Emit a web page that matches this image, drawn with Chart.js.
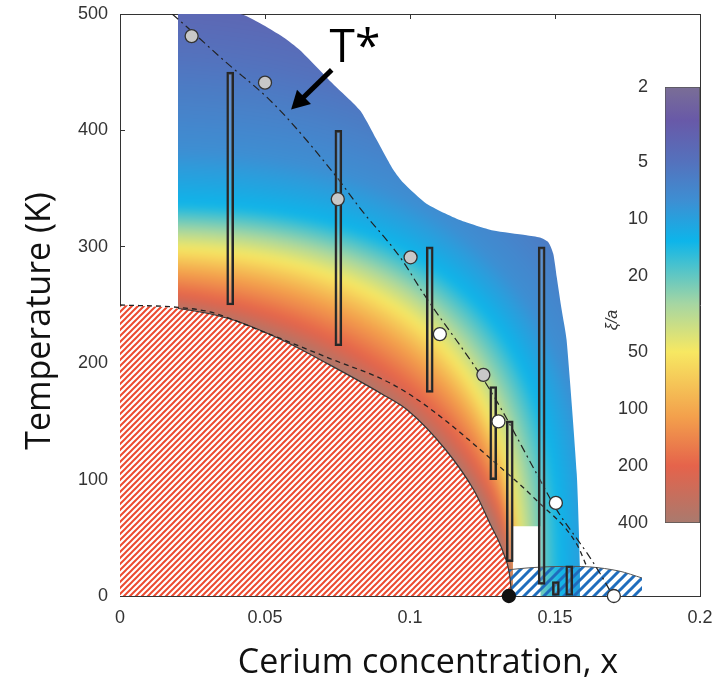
<!DOCTYPE html>
<html>
<head>
<meta charset="utf-8">
<script src="https://cdn.jsdelivr.net/npm/chart.js@4.4.1/dist/chart.umd.min.js"></script>
<style>
  html, body { margin: 0; padding: 0; background: #fff; }
  #wrap { position: relative; width: 721px; height: 678px; }
  #main { position: absolute; left: 0; top: 0; }
  #cbar { position: absolute; left: 580px; top: 60px; }
</style>
</head>
<body>
<div id="wrap">
  <canvas id="main" width="721" height="678"></canvas>
  <canvas id="cbar" width="141" height="500"></canvas>
</div>
<script>
// axes
var xMin = 0, xMax = 0.2, xStep = 0.05;
var tMin = 0, tMax = 500, tStep = 100;

// red hatched dome, read along its edge
var domeX = [0, 0.02, 0.038, 0.055, 0.072, 0.09, 0.099, 0.1125, 0.122, 0.1276, 0.1322, 0.1345, 0.135];
var domeT = [250, 247, 238, 221, 199, 174, 160, 125, 91, 62, 37, 15, 0];

// top edge of the coloured xi/a map
var mapTopX = [0.02, 0.0414, 0.0483, 0.0563, 0.062, 0.0734, 0.0828, 0.0885, 0.0943, 0.0977, 0.1057, 0.1172, 0.1287, 0.1402, 0.1448, 0.1477, 0.1494, 0.1506, 0.1523, 0.154, 0.1575, 0.1586, 0.1586];
var mapTopT = [500, 500, 492, 480, 469, 440, 417, 392, 366, 355, 337, 323, 314, 310, 308, 304, 294, 274, 246, 220, 105, 25, 0];
// white notch cut out of the map, low right
var notchX = [0.1355, 0.1355, 0.145, 0.145, 0.1586];
var notchT = [0, 60, 60, 0, 0];

// blue hatched dome
var scX = [0.1303, 0.14, 0.15, 0.162, 0.172, 0.18];
var scT = [21.5, 24, 25.3, 25, 21.5, 15.5];

// short-dashed line
var dashX = [0, 0.02, 0.031, 0.0494, 0.0724, 0.0931, 0.1058, 0.131, 0.1437, 0.1574, 0.161];
var dashT = [250, 248, 244, 227, 204, 183, 163, 111, 82, 45, 25];

// T* dash-dot line
var tsX = [0.018, 0.023, 0.0368, 0.05, 0.0575, 0.0747, 0.0828, 0.0966, 0.1046, 0.1276, 0.1437, 0.1506, 0.161, 0.1655, 0.17];
var tsT = [500, 489, 458, 430, 411, 360, 333, 291, 260, 177, 105, 74, 37, 19.5, 0];

// vertical range bars
var barX    = [0.038, 0.0753, 0.1068, 0.1287, 0.1344, 0.1454, 0.1503, 0.1549];
var barLow  = [250, 215, 175, 100, 29.5, 10, 0, 0];
var barHigh = [450, 400, 300, 180, 150.5, 300, 12.3, 26];

// markers
var greyX  = [0.0247, 0.05, 0.0751, 0.1002, 0.1253];
var greyT  = [481, 441, 341, 291, 190];
var whiteX = [0.1103, 0.1305, 0.1503, 0.1703];
var whiteT = [225, 150, 80, 0];
var blackX = [0.1341];
var blackT = [0];

// T* label and arrow
var tLabel = 'T*';
var tLabelAt = [0.081, 470];
var arrowFrom = [0.073, 452];
var arrowTo = [0.059, 418];

// colour bar (xi/a, log)
var cbTitle = 'ξ/a';
var cbTicks = [2, 5, 10, 20, 50, 100, 200, 400];
var cmapXi    = [400, 200, 110, 50, 28, 13, 8, 5, 3, 2];
var cmapColor = ['#a97a6e', '#e5634b', '#f3a04c', '#f7e862', '#a6d6a2', '#0db5ea', '#3d8fd3', '#5472bd', '#6859a8', '#7a6e96'];

// contour shapes of the map, one per colour stop (semi-axes in x and K, superellipse power)
var fieldA = [0.135, 0.136, 0.1365, 0.1375, 0.1425, 0.152, 0.165, 0.2, 0.23, 0.26];
var fieldB = [248, 262, 280, 300, 316, 338, 385, 470, 560, 650];
var fieldP = [1.77, 2.0, 2.3, 2.6, 2.7, 2.8, 2.6, 2.2, 2.0, 2.0];

function pts(xs, ys) { return xs.map(function(x, i) { return { x: x, y: ys[i] }; }); }
function lerp(a, b, t) { return a + (b - a) * t; }
function rgb(h) { return [parseInt(h.substr(1, 2), 16), parseInt(h.substr(3, 2), 16), parseInt(h.substr(5, 2), 16)]; }
function mix(c1, c2, t) {
  var a = rgb(c1), b = rgb(c2);
  return 'rgb(' + Math.round(lerp(a[0], b[0], t)) + ',' + Math.round(lerp(a[1], b[1], t)) + ',' + Math.round(lerp(a[2], b[2], t)) + ')';
}
function noPad(s) { s.paddingLeft = 0; s.paddingRight = 0; s.paddingTop = 0; s.paddingBottom = 0; }

var _patterns = {};
function hatch(key, color, bg, size, width) {
  if (_patterns[key]) return _patterns[key];
  var c = document.createElement('canvas');
  c.width = size; c.height = size;
  var g = c.getContext('2d');
  if (bg) { g.fillStyle = bg; g.fillRect(0, 0, size, size); }
  g.strokeStyle = color; g.lineWidth = width;
  g.beginPath();
  g.moveTo(-size, size * 2); g.lineTo(size * 2, -size);
  g.moveTo(-size, size); g.lineTo(size, -size);
  g.moveTo(0, size * 2); g.lineTo(size * 2, 0);
  g.stroke();
  _patterns[key] = g.createPattern(c, 'repeat');
  return _patterns[key];
}

function superEllipse(g, ox, oy, ax, by, p) {
  g.beginPath();
  g.moveTo(ox - 20, oy + 20);
  g.lineTo(ox + ax, oy + 20);
  for (var k = 0; k <= 120; k++) {
    var th = k / 120 * Math.PI / 2;
    g.lineTo(ox + ax * Math.pow(Math.cos(th), 2 / p), oy - by * Math.pow(Math.sin(th), 2 / p));
  }
  g.lineTo(ox - 20, oy - by);
  g.closePath();
  g.fill();
}

function fieldFill(c) {
  var chart = c.chart;
  if (!chart.chartArea) return 'rgba(0,0,0,0)';
  if (_patterns.field) return _patterns.field;
  var xs = chart.scales.x, ys = chart.scales.y;
  var w = chart.width, h = chart.height;
  var a = document.createElement('canvas'); a.width = w; a.height = h;
  var g = a.getContext('2d');
  var ox = xs.getPixelForValue(0), oy = ys.getPixelForValue(0);
  var n = fieldA.length, sub = 12;
  g.fillStyle = cmapColor[n - 1];
  g.fillRect(0, 0, w, h);
  for (var i = n - 1; i >= 1; i--) {
    for (var s = 0; s < sub; s++) {
      var t = 1 - s / sub;
      g.fillStyle = mix(cmapColor[i - 1], cmapColor[i], t);
      superEllipse(g, ox, oy,
        xs.getPixelForValue(lerp(fieldA[i - 1], fieldA[i], t)) - ox,
        oy - ys.getPixelForValue(lerp(fieldB[i - 1], fieldB[i], t)),
        lerp(fieldP[i - 1], fieldP[i], t));
    }
  }
  g.fillStyle = cmapColor[0];
  superEllipse(g, ox, oy, xs.getPixelForValue(fieldA[0]) - ox, oy - ys.getPixelForValue(fieldB[0]), fieldP[0]);
  var b = document.createElement('canvas'); b.width = w; b.height = h;
  var gb = b.getContext('2d');
  gb.filter = 'blur(4px)';
  gb.drawImage(a, 0, 0);
  _patterns.field = chart.ctx.createPattern(b, 'no-repeat');
  return _patterns.field;
}

var decor = {
  id: 'decor',
  afterDatasetsDraw: function(chart) {
    var ctx = chart.ctx, xs = chart.scales.x, ys = chart.scales.y;
    var x1 = xs.getPixelForValue(arrowFrom[0]), y1 = ys.getPixelForValue(arrowFrom[1]);
    var x2 = xs.getPixelForValue(arrowTo[0]), y2 = ys.getPixelForValue(arrowTo[1]);
    var ang = Math.atan2(y2 - y1, x2 - x1), L = 18, W = 10;
    ctx.save();
    ctx.strokeStyle = '#000'; ctx.fillStyle = '#000';
    ctx.lineWidth = 5;
    ctx.beginPath();
    ctx.moveTo(x1, y1);
    ctx.lineTo(x2 - (L - 2) * Math.cos(ang), y2 - (L - 2) * Math.sin(ang));
    ctx.stroke();
    ctx.beginPath();
    ctx.moveTo(x2, y2);
    ctx.lineTo(x2 - L * Math.cos(ang) + W * Math.sin(ang), y2 - L * Math.sin(ang) - W * Math.cos(ang));
    ctx.lineTo(x2 - L * Math.cos(ang) - W * Math.sin(ang), y2 - L * Math.sin(ang) + W * Math.cos(ang));
    ctx.closePath();
    ctx.fill();
    ctx.font = '46px "Open Sans"';
    ctx.textAlign = 'center'; ctx.textBaseline = 'middle';
    ctx.fillText(tLabel, xs.getPixelForValue(tLabelAt[0]), ys.getPixelForValue(tLabelAt[1]));
    ctx.restore();
  },
  afterDraw: function(chart) {
    var ctx = chart.ctx, ca = chart.chartArea;
    ctx.save();
    ctx.fillStyle = '#111';
    ctx.font = '34px "Open Sans"';
    ctx.textAlign = 'center'; ctx.textBaseline = 'middle';
    ctx.fillText('Cerium concentration, x', (ca.left + ca.right) / 2 + 18, ca.bottom + 67);
    ctx.translate(40, (ca.top + ca.bottom) / 2 + 16);
    ctx.rotate(-Math.PI / 2);
    ctx.fillText('Temperature (K)', 0, 0);
    ctx.restore();
  }
};

// colour bar title, set beside the tick labels a little below the middle
var cbLabel = {
  id: 'cbLabel',
  afterDraw: function(chart) {
    var ctx = chart.ctx, ca = chart.chartArea;
    ctx.save();
    ctx.fillStyle = '#333';
    ctx.font = 'italic 16px "Liberation Sans", Arial, sans-serif';
    ctx.textAlign = 'center'; ctx.textBaseline = 'middle';
    ctx.translate(ca.left - 52, (ca.top + ca.bottom) / 2 + 15);
    ctx.rotate(-Math.PI / 2);
    ctx.fillText(cbTitle, 0, 0);
    ctx.restore();
  }
};

Chart.defaults.font.family = '"Liberation Sans", Arial, sans-serif';
Chart.defaults.color = '#333';

var tickFont = { size: 18 };
var line = { type: 'line', pointRadius: 0, fill: false };

new Chart(document.getElementById('main'), {
  type: 'scatter',
  data: {
    datasets: [
      Object.assign({}, line, { data: pts(mapTopX, mapTopT), borderWidth: 0, tension: 0.2, fill: '+1', backgroundColor: fieldFill, order: 100 }),
      Object.assign({}, line, { data: pts(domeX, domeT).filter(function(p) { return p.x >= 0.02; }).concat(pts(notchX, notchT)), borderWidth: 0, tension: 0, order: 99 }),
      Object.assign({}, line, { data: pts(scX, scT), borderColor: '#555', borderWidth: 1, tension: 0.3, fill: 'origin',
        backgroundColor: function() { return hatch('blue', '#1f6dbd', null, 10, 3); }, order: 90 }),
      Object.assign({}, line, { data: pts(domeX, domeT), borderColor: '#333', borderWidth: 1.2, cubicInterpolationMode: 'monotone', fill: 'origin',
        backgroundColor: function() { return hatch('red', '#ec4a30', '#ffffff', 6, 2); },
        segment: { borderColor: function(s) { return s.p0.parsed.x < 0.02 ? 'rgba(0,0,0,0)' : '#333'; } }, order: 80 }),
      Object.assign({}, line, { data: pts(dashX, dashT), borderColor: '#222', borderWidth: 1.3, borderDash: [5, 4], cubicInterpolationMode: 'monotone', order: 70 }),
      Object.assign({}, line, { data: pts(tsX, tsT), borderColor: '#222', borderWidth: 1.2, borderDash: [8, 4, 2, 4], cubicInterpolationMode: 'monotone', order: 60 }),
      { type: 'bar', data: barX.map(function(x, i) { return { x: x, y: [barLow[i], barHigh[i]] }; }),
        barThickness: 7, backgroundColor: 'rgba(255,255,255,0.12)', borderColor: '#262626', borderWidth: 2, borderSkipped: false, order: 50 },
      { type: 'scatter', data: pts(greyX, greyT), pointRadius: 6.5, pointBackgroundColor: '#c8c8c8', pointBorderColor: '#333', pointBorderWidth: 1.3, clip: false, order: 40 },
      { type: 'scatter', data: pts(whiteX, whiteT), pointRadius: 6.5, pointBackgroundColor: '#ffffff', pointBorderColor: '#333', pointBorderWidth: 1.3, clip: false, order: 40 },
      { type: 'scatter', data: pts(blackX, blackT), pointRadius: 6.5, pointBackgroundColor: '#111', pointBorderColor: '#111', pointBorderWidth: 1.3, clip: false, order: 40 }
    ]
  },
  options: {
    responsive: false, animation: false, events: [],
    layout: { padding: 0 },
    plugins: { legend: { display: false }, tooltip: { enabled: false } },
    scales: {
      x: { type: 'linear', min: xMin, max: xMax, offset: false,
        ticks: { stepSize: xStep, font: tickFont, padding: 16, maxRotation: 0,
          callback: function(v) { return String(+v.toFixed(2)); } },
        grid: { drawOnChartArea: false, tickLength: -5, color: '#333', offset: false },
        border: { color: '#333', width: 1 },
        afterFit: function(s) { s.height = 82; noPad(s); } },
      xTop: { type: 'linear', position: 'top', min: xMin, max: xMax, offset: false,
        ticks: { stepSize: xStep, display: false },
        grid: { drawOnChartArea: false, tickLength: -5, color: '#333', offset: false },
        border: { color: '#333', width: 1 },
        afterFit: function(s) { s.height = 14; noPad(s); } },
      y: { type: 'linear', min: tMin, max: tMax,
        ticks: { stepSize: tStep, font: tickFont, padding: 17 },
        grid: { drawOnChartArea: false, tickLength: -5, color: '#333' },
        border: { color: '#333', width: 1 },
        afterFit: function(s) { s.width = 120; noPad(s); } },
      yRight: { type: 'linear', position: 'right', min: tMin, max: tMax,
        ticks: { display: false },
        grid: { drawOnChartArea: false, drawTicks: false },
        border: { color: '#333', width: 1 },
        afterFit: function(s) { s.width = 21; noPad(s); } }
    }
  },
  plugins: [decor]
});

new Chart(document.getElementById('cbar'), {
  type: 'bar',
  data: {
    labels: [''],
    datasets: [{
      data: [[cbTicks[0], cbTicks[cbTicks.length - 1]]],
      backgroundColor: function(c) {
        var ch = c.chart;
        if (!ch.chartArea) return 'rgba(0,0,0,0)';
        var y = ch.scales.y;
        var g = ch.ctx.createLinearGradient(0, y.top, 0, y.bottom);
        cmapXi.forEach(function(v, i) {
          g.addColorStop(Math.min(1, Math.max(0, (y.getPixelForValue(v) - y.top) / (y.bottom - y.top))), cmapColor[i]);
        });
        return g;
      },
      borderColor: '#555', borderWidth: 1, borderSkipped: false,
      barPercentage: 1, categoryPercentage: 1
    }]
  },
  options: {
    responsive: false, animation: false, events: [],
    layout: { padding: { top: 27, right: 21, bottom: 37, left: 0 } },
    plugins: { legend: { display: false }, tooltip: { enabled: false } },
    scales: {
      x: { display: false },
      y: { type: 'logarithmic', reverse: true, min: cbTicks[0], max: cbTicks[cbTicks.length - 1],
        afterBuildTicks: function(s) { s.ticks = cbTicks.map(function(v) { return { value: v }; }); },
        afterFit: function(s) { s.width = 85; noPad(s); },
        grid: { display: false }, border: { display: false },
        ticks: { font: tickFont, padding: 9, callback: function(v) { return String(v); } } }
    }
  },
  plugins: [cbLabel]
});
</script>
</body>
</html>
